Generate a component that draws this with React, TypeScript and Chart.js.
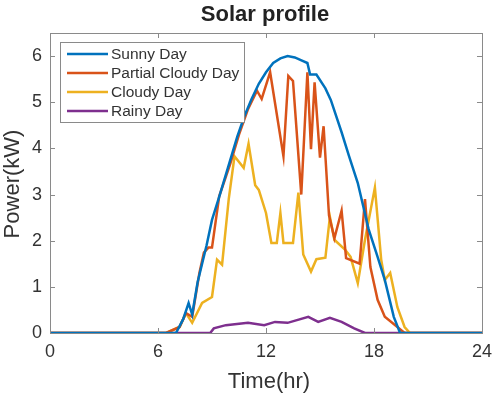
import React, { useEffect, useRef } from "react";
import { Chart, registerables } from "chart.js";

Chart.register(...registerables);

const xTicks = [0, 6, 12, 18, 24];
const yTicks = [0, 1, 2, 3, 4, 5, 6];

const seriesNames = ["Sunny Day", "Partial Cloudy Day", "Cloudy Day", "Rainy Day"];
const seriesColors = ["#0072BD", "#D95319", "#EDB120", "#7E2F8E"];

const sunnyT = [0, 7.0, 7.4, 7.7, 7.9, 8.2, 8.7, 9.0, 9.4, 9.9, 10.4, 10.8, 11.2, 11.6, 12.0, 12.4, 12.8, 13.2, 13.6, 14.0, 14.3, 14.45, 14.8, 15.3, 15.6, 16.2, 16.6, 17.1, 17.7, 18.2, 18.6, 19.1, 19.45, 24];
const sunnyP = [0, 0, 0.3, 0.65, 0.4, 1.1, 1.9, 2.45, 2.95, 3.6, 4.25, 4.7, 5.07, 5.4, 5.65, 5.85, 5.95, 6.0, 5.97, 5.9, 5.85, 5.6, 5.6, 5.3, 5.05, 4.35, 3.85, 3.25, 2.25, 1.65, 1.15, 0.35, 0, 0];

const partialT = [0, 6.45, 7.2, 7.55, 7.9, 8.3, 8.55, 8.8, 9.0, 9.4, 10.0, 10.5, 11.0, 11.5, 11.76, 12.23, 12.97, 13.24, 13.5, 13.96, 14.3, 14.5, 14.7, 15.0, 15.2, 15.5, 15.8, 16.2, 16.45, 17.2, 17.5, 17.8, 18.2, 18.6, 19.3, 19.7, 24];
const partialP = [0, 0, 0.13, 0.43, 0.35, 1.3, 1.74, 1.85, 1.85, 2.96, 3.65, 4.3, 4.85, 5.25, 5.07, 5.65, 3.83, 5.57, 5.46, 3.0, 5.65, 3.98, 5.43, 3.8, 4.48, 2.55, 2.05, 2.65, 1.62, 1.5, 2.9, 1.43, 0.72, 0.35, 0.13, 0, 0];

const cloudyT = [0, 6.45, 7.2, 7.55, 7.9, 8.45, 9.0, 9.28, 9.56, 9.93, 10.25, 10.76, 11.03, 11.4, 11.6, 12.0, 12.3, 12.6, 12.8, 12.97, 13.5, 13.8, 14.07, 14.5, 14.8, 15.3, 15.55, 15.8, 16.4, 16.7, 17.1, 17.5, 18.05, 18.4, 18.6, 18.9, 19.3, 19.7, 20.0, 24];
const cloudyP = [0, 0, 0.13, 0.43, 0.22, 0.65, 0.78, 1.59, 1.48, 2.9, 3.83, 3.58, 4.1, 3.2, 3.1, 2.6, 1.95, 1.95, 2.6, 1.95, 1.95, 3.04, 1.7, 1.33, 1.6, 1.63, 2.52, 2.02, 1.8, 1.65, 1.08, 2.02, 3.15, 1.59, 1.15, 1.3, 0.56, 0.13, 0, 0];

const rainyT = [0, 8.9, 9.1, 9.77, 11.0, 11.9, 12.5, 13.2, 14.35, 14.9, 15.55, 16.2, 16.9, 17.5, 24];
const rainyP = [0, 0, 0.1, 0.17, 0.22, 0.17, 0.24, 0.22, 0.35, 0.24, 0.33, 0.24, 0.1, 0, 0];

const allT = [sunnyT, partialT, cloudyT, rainyT];
const allP = [sunnyP, partialP, cloudyP, rainyP];

const FONT = "'Liberation Sans', Arial, sans-serif";
const TEXT = "#333333";
const BOX = "#8a8a8a";

const decorPlugin = {
  id: "matlabDecor",
  afterDatasetsDraw(chart: any) {
    const { ctx, chartArea } = chart;
    const xs = chart.scales.x;
    const ys = chart.scales.y;
    const { left, right, top, bottom } = chartArea;
    ctx.save();
    ctx.strokeStyle = BOX;
    ctx.lineWidth = 1;
    ctx.strokeRect(Math.round(left) + 0.5, Math.round(top) + 0.5, Math.round(right - left), Math.round(bottom - top));
    const tl = 5;
    ctx.beginPath();
    xTicks.forEach((v) => {
      const px = Math.round(xs.getPixelForValue(v)) + 0.5;
      ctx.moveTo(px, bottom);
      ctx.lineTo(px, bottom - tl);
      ctx.moveTo(px, top);
      ctx.lineTo(px, top + tl);
    });
    yTicks.forEach((v) => {
      const py = Math.round(ys.getPixelForValue(v)) + 0.5;
      ctx.moveTo(left, py);
      ctx.lineTo(left + tl, py);
      ctx.moveTo(right, py);
      ctx.lineTo(right - tl, py);
    });
    ctx.stroke();

    const lx = 60.5, ly = 42.5, lw = 184, lh = 80;
    ctx.fillStyle = "#ffffff";
    ctx.fillRect(lx, ly, lw, lh);
    ctx.strokeStyle = BOX;
    ctx.lineWidth = 1;
    ctx.strokeRect(lx, ly, lw, lh);
    const rowY = [54, 73, 92, 111];
    ctx.font = `15.5px ${FONT}`;
    ctx.textBaseline = "middle";
    ctx.textAlign = "left";
    seriesNames.forEach((name, i) => {
      ctx.strokeStyle = seriesColors[i];
      ctx.lineWidth = 2.5;
      ctx.beginPath();
      ctx.moveTo(67, rowY[i]);
      ctx.lineTo(108, rowY[i]);
      ctx.stroke();
      ctx.fillStyle = TEXT;
      ctx.fillText(name, 111, rowY[i] + 1);
    });

    ctx.fillStyle = "#222222";
    ctx.textAlign = "center";
    ctx.textBaseline = "middle";
    ctx.font = `bold 22px ${FONT}`;
    ctx.fillText("Solar profile", 265, 15);
    ctx.fillStyle = TEXT;
    ctx.font = `22px ${FONT}`;
    ctx.fillText("Time(hr)", 269, 382);
    ctx.save();
    ctx.translate(13, 184);
    ctx.rotate(-Math.PI / 2);
    ctx.fillText("Power(kW)", 0, 0);
    ctx.restore();
    ctx.restore();
  },
};

export default function App() {
  const ref = useRef<HTMLCanvasElement | null>(null);
  useEffect(() => {
    document.body.style.margin = "0";
    if (!ref.current) return;
    const datasets = seriesNames.map((name, i) => ({
      label: name,
      data: allT[i].map((t, j) => ({ x: t, y: allP[i][j] })),
      borderColor: seriesColors[i],
      backgroundColor: seriesColors[i],
      borderWidth: 2.5,
      pointRadius: 0,
      tension: 0,
      fill: false,
    }));
    const chart = new Chart(ref.current, {
      type: "line",
      data: { datasets },
      plugins: [decorPlugin],
      options: {
        responsive: false,
        maintainAspectRatio: false,
        animation: false,
        layout: { padding: { top: 33, right: 15, left: 0, bottom: 0 } },
        plugins: {
          legend: { display: false },
          title: { display: false },
          tooltip: { enabled: false },
        },
        scales: {
          x: {
            type: "linear",
            min: 0,
            max: 24,
            afterBuildTicks: (s: any) => {
              s.ticks = xTicks.map((v) => ({ value: v }));
            },
            afterFit: (s: any) => {
              s.height = 63;
            },
            ticks: { font: { family: FONT, size: 18 }, color: TEXT, padding: 8, maxRotation: 0, autoSkip: false },
            grid: { display: false, drawTicks: false },
            border: { display: false },
          },
          y: {
            type: "linear",
            min: 0,
            max: 6.5,
            afterBuildTicks: (s: any) => {
              s.ticks = yTicks.map((v) => ({ value: v }));
            },
            afterFit: (s: any) => {
              s.width = 50;
            },
            ticks: { font: { family: FONT, size: 18 }, color: TEXT, padding: 8 },
            grid: { display: false, drawTicks: false },
            border: { display: false },
          },
        },
      },
    } as any);
    return () => chart.destroy();
  }, []);
  return (
    <div style={{ width: 500, height: 396 }}>
      <canvas ref={ref} width={500} height={396} style={{ display: "block" }} />
    </div>
  );
}
